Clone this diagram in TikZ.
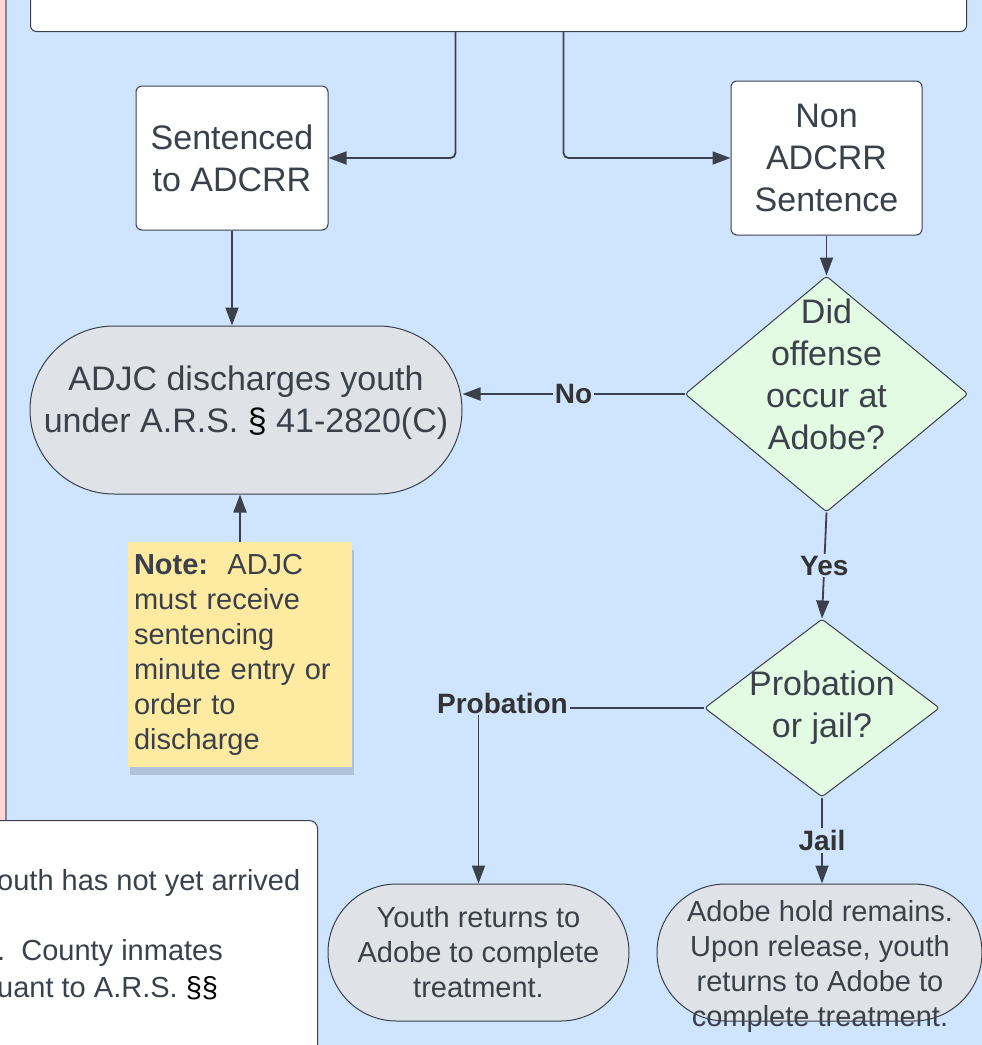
\documentclass[tikz,border=0pt]{standalone}
\usepackage{fontspec}
\setmainfont{Liberation Sans}
\usetikzlibrary{positioning,shapes.geometric,arrows.meta,shadows}

\definecolor{lanebg}{RGB}{207,228,255}
\definecolor{lanepink}{RGB}{255,214,216}
\definecolor{laneline}{RGB}{128,134,145}
\definecolor{inkgray}{RGB}{58,65,74}
\definecolor{lblgray}{RGB}{51,51,51}
\definecolor{termfill}{RGB}{223,227,232}
\definecolor{decfill}{RGB}{227,250,227}
\definecolor{stickyfill}{RGB}{255,234,161}

\tikzset{
    bigtext/.style={text=inkgray, font=\fontsize{34}{42}\selectfont, align=center},
    smalltext/.style={text=inkgray, font=\fontsize{29}{35}\selectfont, align=center},
    box/.style={draw=inkgray, line width=1pt, fill=white, rounded corners=6pt, inner sep=0pt, bigtext},
    term/.style={draw=inkgray, line width=1pt, fill=termfill, inner sep=0pt},
    decision/.style={diamond, draw=inkgray, line width=1pt, fill=decfill, rounded corners=3pt, inner sep=0pt},
    sticky/.style={smalltext, fill=stickyfill, inner xsep=6pt, text width=212pt, align=left,
        drop shadow={shadow xshift=2pt, shadow yshift=-8pt, fill=black, opacity=.15}},
    flow/.style={draw=inkgray, line width=1.8pt, -{Triangle[length=18pt, width=13pt]}},
    lbl/.style={fill=lanebg, text=lblgray, font=\fontsize{28}{34}\selectfont\bfseries, inner sep=2pt}
}

\begin{document}
\begin{tikzpicture}[x=1pt, y=-1pt]
                \useasboundingbox (0,0) rectangle (982,1045);
                \clip (0,0) rectangle (982,1045);
                \fill[lanebg] (0,0) rectangle (982,1045);
                \fill[lanepink] (0,0) rectangle (6,820);
                \draw[laneline, line width=2pt] (6,0) -- (6,820);

                \node[box, minimum width=936pt, minimum height=80pt, anchor=south west] (intake) at (30,32) {};
                \coordinate (tapL) at ([xshift=-43pt]intake.south);
                \coordinate (tapR) at ([xshift=65pt]intake.south);

                \node[box, minimum width=192pt, minimum height=144pt] (sent) at (232,158) {Sentenced\\to ADCRR};
                \node[box, minimum width=191pt, minimum height=154pt] (nonsent) at (826.5,158) {Non\\ADCRR\\Sentence};
                \node[term, rounded corners=84pt, minimum width=432pt, minimum height=168pt] (discharge) at (246,410) {};
                \node[bigtext] (dischargetxt) at ([yshift=7pt]discharge.center)
                    {ADJC discharges youth\\under A.R.S. {\color{black}\S} 41-2820(C)};

                \node[decision, minimum width=283pt, minimum height=236pt, below=40pt of nonsent] (offense) {};
                \node[bigtext] (offensetxt) at ([yshift=20pt]offense.center) {Did\\offense\\occur at\\Adobe?};
                \node[decision, minimum width=235pt, minimum height=178pt, below=106pt of offense, xshift=-4.5pt] (probjail) {};
                \node[bigtext] (probjailtxt) at (probjail.center) {Probation\\or jail?};

                \node[sticky, minimum width=224pt, minimum height=225pt] (note) at (240,654.5)
                    {\textbf{Note:}\ \ ADJC\\must receive\\sentencing\\minute entry or\\order to\\discharge};

                \node[term, rounded corners=68.5pt, minimum width=301pt, minimum height=137pt, smalltext] (back) at (478.5,952.5)
                    {Youth returns to\\Adobe to complete\\treatment.};
                \node[term, rounded corners=68.5pt, minimum width=325pt, minimum height=137pt] (hold) at (819.5,952.5) {};
                \node[smalltext] (holdtxt) at (820,966) {Adobe hold remains.\\Upon release, youth\\returns to Adobe to\\complete treatment.};

                \node[box, rounded corners=8pt, minimum width=360pt, minimum height=260pt, anchor=north east] (remark) at (318,820) {};
                \node[smalltext, anchor=west, inner sep=0pt] (remarkA) at (-3,883) {outh has not yet arrived};
                \node[smalltext, anchor=west, inner sep=0pt] (remarkB) at (-3,953) {.\ \ County inmates};
                \node[smalltext, anchor=west, inner sep=0pt] (remarkC) at (-3,988) {uant to A.R.S. {\color{black}\S\S}};

                \draw[flow, rounded corners=5pt] (tapL) |- (sent.east);
                \draw[flow, rounded corners=5pt] (tapR) |- (nonsent.west);
                \draw[flow] (sent.south) -- (sent.south |- discharge.north);
                \draw[flow] (nonsent.south) -- (offense.north);
                \draw[flow] (offense.west) -- node[lbl] {No} (offense.west -| discharge.east);
                \draw[flow] (offense.south) -- node[lbl] {Yes} (probjail.north);
                \draw[flow] (note.north) -- (note.north |- discharge.south);
                \draw[flow] (probjail.west) -| node[lbl, pos=.5, xshift=24pt, yshift=5pt] {Probation} (back.north);
                \draw[flow] (probjail.south) -- node[lbl] {Jail} (probjail.south |- hold.north);
            \end{tikzpicture}
\end{document}
